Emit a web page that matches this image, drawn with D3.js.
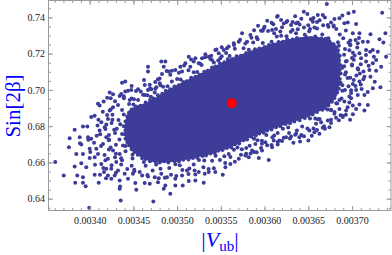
<!DOCTYPE html>
<html>
<head>
<meta charset="utf-8">
<script src="https://cdn.jsdelivr.net/npm/d3@7"></script>
<style>
  body { margin: 0; background: #fff; }
  svg { display: block; }
</style>
</head>
<body>
<div id="wrapper"></div>
<script>
// Tick values
const vubTicks = [0.0034, 0.00345, 0.0035, 0.00355, 0.0036, 0.00365, 0.0037];
const sinTicks = [0.64, 0.66, 0.68, 0.70, 0.72, 0.74];

// Central value (red)
const bestFit = [[0.0035625, 0.6927]];

// Outline of the solid core of the cloud, [|Vub|, Sin2beta]
const denseCore = [
  [0.0034461,0.689],[0.0034667,0.6934],[0.0034896,0.7],[0.0035239,0.7083],[0.0035605,0.7171],
  [0.0035971,0.7237],[0.0036292,0.7281],[0.0036612,0.7292],[0.0036772,0.7264],[0.0036853,0.7209],
  [0.0036864,0.7083],[0.003683,0.6972],[0.003675,0.6923],[0.0036635,0.6884],[0.0036429,0.684],
  [0.0036155,0.6796],[0.003588,0.6747],[0.0035594,0.668],[0.0035262,0.6631],[0.0034942,0.6603],
  [0.0034724,0.6603],[0.0034576,0.6631],[0.0034461,0.668],[0.0034404,0.6741],[0.0034404,0.6813]
];

// Scan points on the rim of the core, [|Vub|, Sin2beta]
const rimPoints = [
  [0.003441,0.6826],[0.003443,0.6853],[0.003445,0.6876],[0.003448,0.6892],[0.003453,0.6908],[0.003458,0.6912],
  [0.003464,0.6931],[0.003469,0.6944],[0.003473,0.6952],[0.003478,0.697],[0.003483,0.6979],[0.003487,0.6996],
  [0.003492,0.7003],[0.003497,0.7019],[0.003502,0.7026],[0.003507,0.7044],[0.003511,0.7048],[0.003516,0.7067],
  [0.003521,0.7072],[0.003526,0.7084],[0.003531,0.71],[0.003535,0.7106],[0.00354,0.7124],[0.003544,0.7129],
  [0.003549,0.7146],[0.003554,0.7153],[0.003558,0.7169],[0.003563,0.717],[0.003568,0.7185],[0.003573,0.7189],
  [0.003579,0.7204],[0.003584,0.7207],[0.003589,0.7224],[0.003594,0.7228],[0.0036,0.7236],[0.003605,0.7248],
  [0.00361,0.725],[0.003616,0.7264],[0.003621,0.7266],[0.003626,0.728],[0.003632,0.7278],[0.003637,0.7286],
  [0.003642,0.7281],[0.003648,0.729],[0.003653,0.7286],[0.003658,0.7294],[0.003665,0.7284],[0.00367,0.7282],
  [0.003674,0.7268],[0.003679,0.7252],[0.003682,0.7235],[0.003684,0.7218],[0.003686,0.7189],[0.003685,0.7162],
  [0.003687,0.7136],[0.003686,0.7111],[0.003687,0.709],[0.003686,0.706],[0.003685,0.7032],[0.003685,0.7006],
  [0.003683,0.6985],[0.00368,0.6956],[0.003677,0.6935],[0.003673,0.6914],[0.003669,0.69],[0.003666,0.689],
  [0.00366,0.6878],[0.003655,0.6865],[0.00365,0.6857],[0.003646,0.6845],[0.00364,0.6833],[0.003634,0.6826],
  [0.003629,0.6816],[0.003624,0.6812],[0.003618,0.68],[0.003613,0.6794],[0.003608,0.6782],[0.003603,0.6776],
  [0.003599,0.6764],[0.003594,0.676],[0.00359,0.6748],[0.003585,0.6742],[0.00358,0.6727],[0.003576,0.6722],
  [0.003571,0.6705],[0.003566,0.67],[0.003562,0.6683],[0.003557,0.6679],[0.003552,0.6668],[0.003547,0.6664],
  [0.003543,0.6652],[0.003538,0.665],[0.003533,0.6638],[0.003529,0.6636],[0.003523,0.6626],[0.003518,0.6625],
  [0.003513,0.6616],[0.003507,0.6615],[0.003502,0.6606],[0.003497,0.6607],[0.00349,0.66],[0.003485,0.6606],
  [0.00348,0.6599],[0.003475,0.6605],[0.003469,0.6606],[0.003464,0.6619],[0.00346,0.6623],[0.003455,0.6643],
  [0.003451,0.6657],[0.003448,0.6673],[0.003445,0.6695],[0.003443,0.6712],[0.003441,0.673],[0.00344,0.6756],
  [0.003441,0.6778],[0.003439,0.6799],
  // second row, just outside
  [0.003433,0.6834],[0.003439,0.6864],[0.003437,0.6889],[0.003445,0.6922],[0.00345,0.692],[0.003461,0.6973],
  [0.003466,0.697],[0.00347,0.6962],[0.003475,0.7006],[0.003481,0.7026],[0.003484,0.7017],[0.003489,0.702],
  [0.003494,0.7047],[0.0035,0.706],[0.003504,0.7058],[0.003513,0.7108],[0.003519,0.7097],[0.003523,0.7099],
  [0.003528,0.7138],[0.003538,0.7171],[0.003542,0.7151],[0.003547,0.7162],[0.003551,0.7185],[0.003556,0.7204],
  [0.00356,0.7187],[0.003566,0.7227],[0.003576,0.723],[0.003582,0.7221],[0.003587,0.7261],[0.003592,0.7279],
  [0.003598,0.7259],[0.003608,0.7266],[0.003614,0.7295],[0.003619,0.7299],[0.003625,0.7296],[0.00363,0.7321],
  [0.003636,0.7312],[0.003646,0.7304],[0.003651,0.7323],[0.003657,0.7344],[0.003666,0.7306],[0.003673,0.7285],
  [0.003684,0.7263],[0.003685,0.7244],[0.003692,0.7225],[0.003691,0.7194],[0.003693,0.7157],[0.003691,0.713],
  [0.003693,0.7098],[0.003695,0.7065],[0.003689,0.7026],[0.003692,0.6999],[0.003688,0.6952],[0.003682,0.6926],
  [0.003676,0.6888],[0.003672,0.6892],[0.003663,0.6839],[0.003658,0.6842],[0.003652,0.6843],[0.003643,0.6798],
  [0.003637,0.6776],[0.003627,0.6793],[0.003621,0.6786],[0.003615,0.6763],[0.003611,0.6748],[0.003602,0.6751],
  [0.003597,0.6719],[0.003592,0.6722],[0.003588,0.673],[0.003583,0.6692],[0.003574,0.6673],[0.003569,0.6683],
  [0.003565,0.667],[0.003559,0.6647],[0.003554,0.6634],[0.003544,0.6637],[0.00354,0.6609],[0.003531,0.6611],
  [0.003525,0.6613],[0.003519,0.6588],[0.003514,0.6566],[0.003503,0.6584],[0.003498,0.659],[0.003491,0.6569],
  [0.003481,0.6565],[0.003476,0.6589],[0.003464,0.6582],[0.003462,0.6603],[0.003449,0.6622],[0.003449,0.6643],
  [0.003441,0.6662],[0.003441,0.669],[0.003434,0.6727],[0.003437,0.6757],[0.003431,0.6786],[0.003435,0.6811]
];

// Individual scan points further out, [|Vub|, Sin2beta]
const scanPoints = [
  // upper left
  [0.0034819,0.7156],[0.0034667,0.7128],[0.0034667,0.7101],[0.0034827,0.7088],[0.0034407,0.7046],[0.003437,0.704],
  [0.0034621,0.7055],[0.0034781,0.7059],[0.0034553,0.7004],[0.0034476,0.7],[0.0034229,0.6985],[0.0034267,0.6976],
  [0.003424,0.6954],[0.0034343,0.6967],[0.0034407,0.6991],[0.0034438,0.6996],[0.0034095,0.6923],[0.0034324,0.6917],
  [0.0034392,0.6954],[0.0034458,0.6945],[0.0034507,0.6949],[0.0034553,0.6945],[0.0034584,0.6991],[0.0034667,0.7],
  [0.0034705,0.7004],[0.0034629,0.6972],[0.0034744,0.6985],[0.0034687,0.7028],[0.0034762,0.7015],[0.0034801,0.7037],
  // left and lower left
  [0.0034114,0.6914],[0.0034018,0.685],[0.0034057,0.6858],[0.0033923,0.6798],[0.0033973,0.6798],[0.0033828,0.678],
  [0.0033771,0.6734],[0.0033886,0.6739],[0.0033981,0.6739],[0.0034018,0.673],[0.0033904,0.6699],[0.0033763,0.6684],
  [0.0033847,0.6647],[0.0033923,0.6647],[0.0034,0.6675],[0.0034007,0.6657],[0.0034057,0.6629],[0.0034,0.6625],
  [0.0033606,0.6602],[0.0033828,0.6577],[0.0033904,0.6596],[0.0033961,0.6574],[0.0033703,0.6528],[0.0033858,0.6528],
  [0.0033923,0.6519],[0.0033835,0.6488],[0.0033923,0.6488],[0.0033954,0.6469],[0.0034103,0.6488],[0.0034057,0.6532],
  [0.0034164,0.6547],[0.003419,0.6565],[0.0034133,0.6592],[0.0034076,0.6675],[0.0034095,0.6647],[0.0034152,0.6702],
  [0.003419,0.6739],[0.0034114,0.6776],[0.0034172,0.6794],[0.0034133,0.6822],[0.0034209,0.684],[0.0034229,0.6886],
  [0.0034267,0.6905],[0.0034355,0.639],[0.0034728,0.6385],[0.0033995,0.635],[0.0034343,0.6455],[0.0034533,0.6449],
  [0.0034247,0.651],[0.0034343,0.65],[0.0034438,0.651],[0.0034522,0.6486],[0.0034629,0.6486],[0.0034687,0.6482],
  [0.0034781,0.6491],[0.0034209,0.6528],[0.0034286,0.6528],[0.00344,0.6537],[0.0034495,0.6537],[0.0034572,0.6547],
  [0.0034667,0.6522],[0.0034744,0.6519],[0.0034819,0.6537],[0.0034247,0.6565],[0.0034324,0.6555],[0.0034209,0.662],
  [0.0034304,0.6602],[0.0034267,0.6666],[0.0034343,0.6647],[0.0034381,0.6693],
  [0.0033984,0.6725],[0.003408,0.6747],[0.0033889,0.6706],[0.0034118,0.6532],[0.0034187,0.6513],[0.0034156,0.6569],
  [0.0034061,0.6587],[0.0034347,0.6467],
  [0.003415,0.688],[0.00342,0.6862],[0.00341,0.6835],[0.003425,0.6818],[0.003418,0.6785],[0.003429,0.6763],
  [0.003412,0.6755],[0.003422,0.6726],[0.003413,0.669],[0.003424,0.6682],[0.003417,0.6641],[0.003429,0.6629],
  [0.003418,0.6612],[0.003436,0.6589],[0.003425,0.6584],[0.003443,0.6564],[0.00343,0.6543],[0.003451,0.6551],
  [0.003409,0.6804],[0.003405,0.6709],[0.003416,0.6936],[0.003429,0.6938],[0.003436,0.6978],[0.00342,0.6957],
  [0.003448,0.7022],
  // lower middle
  [0.0034922,0.6427],[0.0034865,0.6473],[0.0034847,0.6455],[0.0034979,0.6473],[0.0035064,0.6473],[0.0035133,0.6497],
  [0.0035208,0.65],[0.0035304,0.6488],[0.0035208,0.6533],[0.0035247,0.6547],[0.0035316,0.6537],[0.0035362,0.6547],
  [0.0035437,0.6547],[0.0035522,0.6532],[0.0035552,0.6574],[0.0035609,0.6592],[0.0035705,0.662],[0.003578,0.6638],
  [0.0035819,0.6629],[0.0035934,0.6625],[0.0036048,0.6614],[0.0035971,0.6666],[0.0036086,0.6684],[0.0035857,0.6666],
  [0.0035895,0.6702],[0.0036009,0.6712],[0.0036105,0.6721],[0.0035056,0.6528],[0.0034979,0.651],[0.0034884,0.6519],
  [0.0035113,0.6555],
  // lower right
  [0.0036501,0.6721],[0.0036406,0.6715],[0.0036398,0.6739],[0.0036627,0.6758],[0.003657,0.6767],[0.0036513,0.6776],
  [0.0036742,0.6794],[0.0036666,0.6791],[0.0036723,0.6831],[0.0036818,0.6846],[0.0036895,0.685],[0.0036978,0.6836],
  [0.0036933,0.6886],[0.0037047,0.6895],[0.0037142,0.6886],[0.0037181,0.6917],[0.0037009,0.6914],[0.0037085,0.6919],
  [0.0036856,0.6895],[0.0036799,0.6868],[0.0036647,0.6822],[0.0036589,0.6813],[0.003636,0.6758],[0.0036303,0.6743],
  [0.0036246,0.6739],[0.0036169,0.6721],
  [0.003608,0.6696],[0.00362,0.6718],[0.003629,0.6732],[0.003633,0.6709],[0.003645,0.6744],[0.003654,0.6747],
  [0.00366,0.6779],[0.003669,0.6786],[0.003676,0.6818],[0.003685,0.6832],[0.003693,0.6863],[0.003615,0.6699],
  [0.003596,0.6679],[0.003579,0.6648],[0.003588,0.6657],
  // upper right
  [0.0036712,0.7474],[0.0036449,0.7431],[0.0037345,0.7426],[0.0036959,0.7423],[0.0037021,0.7431],[0.0036609,0.7413],
  [0.0036666,0.7413],[0.0036856,0.7395],[0.0036799,0.7391],[0.0036151,0.7408],[0.0036189,0.7386],[0.0036303,0.7358],
  [0.003636,0.7367],[0.0036552,0.7376],[0.0036723,0.7358],[0.0036913,0.7367],[0.0036952,0.7371],[0.0037047,0.7364],
  [0.0037085,0.7312],[0.0037009,0.7312],[0.0037211,0.7307],[0.0037382,0.7312],[0.0037314,0.7279],[0.0037359,0.7261],
  [0.0037124,0.7266],[0.0037181,0.7266],[0.0037066,0.7257],[0.0037238,0.722],[0.0037295,0.7211],[0.0037207,0.7211],
  [0.0037161,0.722],[0.0037085,0.7202],[0.003739,0.7183],[0.0037276,0.7165],[0.0037238,0.7147],[0.0037161,0.7156],
  [0.0037104,0.7175],[0.0037333,0.7128],[0.0037276,0.7106],[0.0037199,0.711],[0.0037131,0.7101],[0.0037066,0.712],
  [0.0037211,0.7073],[0.0037142,0.7073],[0.0037085,0.7046],[0.0037325,0.7015],[0.0037238,0.7009],[0.0037047,0.7],
  [0.0037142,0.6972],[0.0037066,0.6972],[0.003699,0.6954],[0.0036856,0.6945],[0.0036913,0.6936],
  [0.003696,0.726],[0.003706,0.7234],[0.003702,0.7166],[0.00371,0.7141],[0.003705,0.708],[0.003713,0.7059],
  [0.003704,0.7021],[0.003711,0.7005],[0.003699,0.6983],[0.003719,0.7133],[0.003708,0.7286],[0.003725,0.7183],
  // upper middle
  [0.0035926,0.7354],[0.0036143,0.7404],[0.0035991,0.734],[0.0036086,0.7331],[0.0035743,0.7312],[0.0035838,0.7303],
  [0.0035705,0.7266],[0.00358,0.7266],[0.0035648,0.7257],[0.0035323,0.7197],[0.0035133,0.7183],[0.003559,0.7239],
  [0.0035533,0.722],[0.0035437,0.722],[0.0035476,0.7202],[0.0035362,0.7183],[0.0035285,0.7175],[0.0035208,0.7175],
  [0.003519,0.7156],[0.0035247,0.7147],[0.0035094,0.7147],[0.0035037,0.7128],[0.0034979,0.711],[0.0034904,0.7101],
  [0.0034847,0.7128],[0.0034865,0.7156],[0.0034922,0.7083],[0.0035056,0.7101],[0.0035151,0.7128],[0.0035399,0.7165],
  [0.0035494,0.7175],
  [0.00369,0.7285],[0.003698,0.725],[0.003703,0.719],[0.003694,0.716],[0.0037,0.7135],[0.003692,0.7085],
  [0.003702,0.7055],[0.003696,0.702],[0.003689,0.6995],[0.003709,0.709],[0.00371,0.703],[0.003697,0.7218],
  [0.003689,0.7122],[0.003704,0.7275],[0.003716,0.7193],[0.003693,0.7328],[0.003687,0.704],[0.003726,0.7045],
  [0.003718,0.6988],[0.003695,0.6904],[0.003683,0.6925],[0.003701,0.6866],[0.003676,0.689],[0.003687,0.686],
  [0.00361,0.7362],[0.003626,0.738],[0.003642,0.7393],[0.00365,0.7356],[0.003663,0.7384],[0.003676,0.7372],
  [0.003682,0.7336],[0.003638,0.7334],[0.003603,0.7382],[0.00366,0.7338],[0.00362,0.7345],[0.003649,0.7419],
  [0.003596,0.7326],[0.003689,0.741],
  [0.003588,0.7329],[0.0036,0.7348],[0.003613,0.7336],[0.003622,0.7366],[0.003632,0.7375],[0.00364,0.736],
  [0.003656,0.7397],[0.003669,0.7399],[0.003679,0.735],[0.003608,0.737],[0.003635,0.7406],[0.003652,0.7336],
  // outer rim
  [0.003439,0.6965],[0.003448,0.6952],[0.003453,0.6994],[0.003463,0.7027],[0.003469,0.7009],[0.003475,0.7044],
  [0.00348,0.7063],[0.003488,0.7104],[0.003494,0.7105],[0.003502,0.7095],[0.003508,0.7134],[0.003516,0.7168],
  [0.003526,0.7146],[0.003532,0.718],[0.003539,0.7189],[0.003545,0.7223],[0.003551,0.7235],[0.003557,0.723],
  [0.003565,0.7248],[0.003572,0.7277],[0.003578,0.7256],[0.003585,0.7288],[0.003591,0.7291],[0.003598,0.7326],
  [0.003604,0.7325],[0.003611,0.7312],[0.003618,0.7322],[0.003625,0.7374],[0.003632,0.733],[0.003638,0.7371],
  [0.003645,0.7344],[0.003653,0.739],[0.00366,0.7374],[0.003667,0.7357],[0.003673,0.7348],[0.003679,0.7355],
  [0.003686,0.7305],
  [0.003698,0.7272],[0.003698,0.7246],[0.003701,0.7205],[0.0037,0.7176],[0.0037,0.714],[0.003707,0.7112],
  [0.003698,0.7067],[0.003701,0.7033],[0.003699,0.6998],[0.003697,0.6964],[0.003697,0.693],
  [0.003689,0.6857],[0.00368,0.6878],[0.003676,0.6836],[0.003668,0.6799],[0.003661,0.6838],[0.003656,0.6787],
  [0.003649,0.6787],[0.003642,0.6751],[0.003635,0.6753],[0.003628,0.6762],[0.003622,0.6736],[0.003615,0.6713],
  [0.003609,0.6739],[0.003603,0.6695],[0.003597,0.6703],[0.003591,0.6656],[0.003584,0.665],[0.003579,0.668],
  [0.003573,0.6642],[0.003566,0.6604],[0.003561,0.663],[0.003555,0.6597],[0.003549,0.6614],[0.003542,0.6568],
  [0.003536,0.6564],[0.00353,0.6574],[0.00352,0.6556],[0.003513,0.6536],[0.003506,0.6559],[0.003499,0.6525],
  [0.003493,0.6532],[0.003486,0.6516],[0.003479,0.6513],[0.003472,0.6556],[0.003466,0.6531],[0.00346,0.6528],
  [0.003451,0.656],[0.003448,0.6582],[0.003437,0.6612],[0.003436,0.6623],[0.00343,0.6648],[0.003422,0.6672],
  [0.00343,0.6697],[0.003422,0.6723],[0.003422,0.6751],[0.003428,0.678],[0.003419,0.6809],[0.003426,0.6835],
  [0.003426,0.6863],[0.003424,0.6892]
];

function drawChart() {
  const width = 392;
  const height = 255;
  const frame = { left: 48.5, right: 391, top: 0.5, bottom: 210.5 };
  const pointColor = "#3d3d99";
  const frameColor = "#9a9a9a";
  const serif = "'Liberation Serif', 'DejaVu Serif', serif";

  const svg = d3
    .select("#wrapper")
    .append("svg")
    .attr("width", width)
    .attr("height", height);

  // Scales
  const xScale = d3
    .scaleLinear()
    .domain([0.0033529, 0.0037446])
    .range([frame.left, frame.right]);

  const yScale = d3
    .scaleLinear()
    .domain([0.6335, 0.7493])
    .range([frame.bottom, frame.top]);

  svg
    .append("clipPath")
    .attr("id", "plotClip")
    .append("rect")
    .attr("x", frame.left)
    .attr("y", frame.top)
    .attr("width", frame.right - frame.left)
    .attr("height", frame.bottom - frame.top);

  const plot = svg.append("g").attr("clip-path", "url(#plotClip)");

  // Solid core of the cloud
  const coreLine = d3
    .line()
    .x((d) => xScale(d[0]))
    .y((d) => yScale(d[1]))
    .curve(d3.curveCatmullRomClosed);

  plot
    .append("path")
    .datum(denseCore)
    .attr("d", coreLine)
    .attr("fill", pointColor);

  plot
    .append("g")
    .selectAll("circle")
    .data(rimPoints.concat(scanPoints))
    .join("circle")
    .attr("cx", (d) => xScale(d[0]))
    .attr("cy", (d) => yScale(d[1]))
    .attr("r", 2)
    .attr("fill", pointColor);

  plot
    .append("g")
    .selectAll("circle")
    .data(bestFit)
    .join("circle")
    .attr("cx", (d) => xScale(d[0]))
    .attr("cy", (d) => yScale(d[1]))
    .attr("r", 5)
    .attr("fill", "#ff0000");

  // Frame
  svg
    .append("rect")
    .attr("x", frame.left)
    .attr("y", frame.top)
    .attr("width", frame.right - frame.left)
    .attr("height", frame.bottom - frame.top)
    .attr("fill", "none")
    .attr("stroke", frameColor)
    .attr("stroke-width", 1);

  // Axes, ticks pointing inwards on all four sides
  const xMinor = xScale.ticks(40);
  const yMinor = yScale.ticks(25);

  function styleAxis(g) {
    g.select(".domain").remove();
    g.selectAll(".tick line").attr("stroke", frameColor);
    g.selectAll(".tick text")
      .attr("fill", "#222")
      .style("font-family", serif)
      .style("font-size", "10px");
  }

  const axes = [
    { gen: d3.axisBottom(xScale).tickValues(vubTicks).tickFormat(d3.format(".5f")), t: `translate(0,${frame.bottom})`, pad: 6 },
    { gen: d3.axisLeft(yScale).tickValues(sinTicks).tickFormat(d3.format(".2f")), t: `translate(${frame.left},0)`, pad: 3.5 },
    { gen: d3.axisTop(xScale).tickValues(vubTicks).tickFormat(""), t: `translate(0,${frame.top})`, pad: 0 },
    { gen: d3.axisRight(yScale).tickValues(sinTicks).tickFormat(""), t: `translate(${frame.right},0)`, pad: 0 },
  ];

  axes.forEach((a) => {
    svg.append("g").attr("transform", a.t).call(a.gen.tickSize(-4.5).tickPadding(a.pad)).call(styleAxis);
  });

  const minorAxes = [
    { gen: d3.axisBottom(xScale).tickValues(xMinor), t: `translate(0,${frame.bottom})` },
    { gen: d3.axisTop(xScale).tickValues(xMinor), t: `translate(0,${frame.top})` },
    { gen: d3.axisLeft(yScale).tickValues(yMinor), t: `translate(${frame.left},0)` },
    { gen: d3.axisRight(yScale).tickValues(yMinor), t: `translate(${frame.right},0)` },
  ];

  minorAxes.forEach((a) => {
    svg.append("g").attr("transform", a.t).call(a.gen.tickSize(-2.5).tickFormat("")).call(styleAxis);
  });

  // Axis titles
  const xTitle = svg
    .append("text")
    .attr("x", 220)
    .attr("y", 247)
    .attr("text-anchor", "middle")
    .attr("fill", "#0000ff")
    .style("font-family", serif)
    .style("font-size", "22px");
  xTitle.append("tspan").text("|");
  xTitle.append("tspan").style("font-style", "italic").text("V");
  xTitle.append("tspan").attr("dy", 4).style("font-size", "15px").text("ub");
  xTitle.append("tspan").attr("dy", -4).text("|");

  svg
    .append("text")
    .attr("transform", "translate(19.5,106) rotate(-90)")
    .attr("text-anchor", "middle")
    .attr("fill", "#0000ff")
    .style("font-family", serif)
    .style("font-size", "21px")
    .text("Sin[2β]");
}

drawChart();
</script>
</body>
</html>
